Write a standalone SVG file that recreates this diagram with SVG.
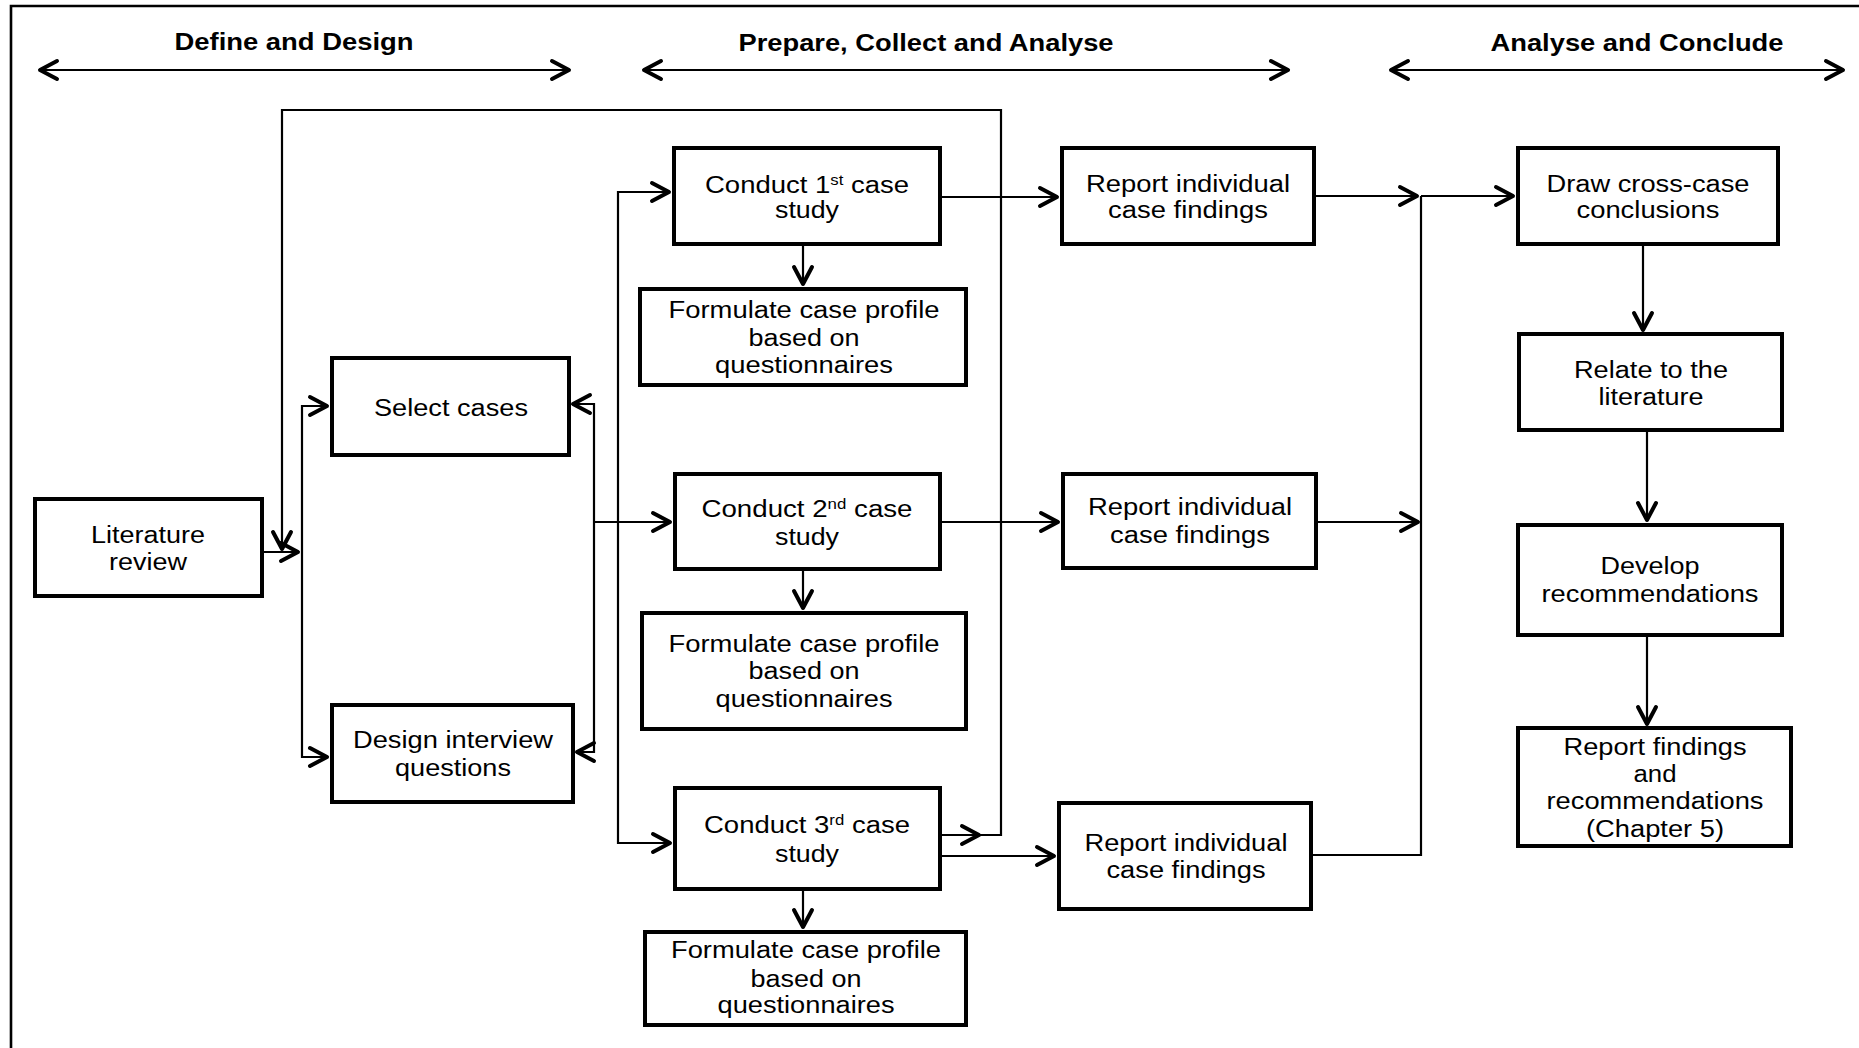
<svg xmlns="http://www.w3.org/2000/svg" width="1859" height="1048" viewBox="0 0 1859 1048">
<style>
.box{fill:#fff;stroke:#000;stroke-width:4}
.t{font-family:"Liberation Sans",Arial,sans-serif;font-size:23px;fill:#000;text-anchor:middle}
.h{font-family:"Liberation Sans",Arial,sans-serif;font-size:23px;font-weight:bold;fill:#000;text-anchor:middle}
.c{fill:none;stroke:#000;stroke-width:2.2}
.ar{marker-end:url(#ah)}
.dbl{marker-start:url(#ahs);marker-end:url(#ah)}
</style>
<defs>
<marker id="ah" markerUnits="userSpaceOnUse" markerWidth="24" markerHeight="24" refX="0" refY="0" orient="auto" overflow="visible">
<path d="M-17,-9 L0,0 L-17,9" fill="none" stroke="#000" stroke-width="4" stroke-linecap="round" stroke-linejoin="round"/>
</marker>
<marker id="ahs" markerUnits="userSpaceOnUse" markerWidth="24" markerHeight="24" refX="0" refY="0" orient="auto" overflow="visible">
<path d="M17,-9 L0,0 L17,9" fill="none" stroke="#000" stroke-width="4" stroke-linecap="round" stroke-linejoin="round"/>
</marker>
</defs>
<rect width="1859" height="1048" fill="#fff"/>
<path d="M11,1048 V6 H1859" fill="none" stroke="#000" stroke-width="2.6"/>

<g id="headings">
<text class="h" x="294" y="50" textLength="239" lengthAdjust="spacingAndGlyphs">Define and Design</text>
<text class="h" x="926" y="51" textLength="375" lengthAdjust="spacingAndGlyphs">Prepare, Collect and Analyse</text>
<text class="h" x="1637" y="51" textLength="293" lengthAdjust="spacingAndGlyphs">Analyse and Conclude</text>
</g>

<g id="connectors">
<path class="c dbl" d="M40,70 H569"/>
<path class="c dbl" d="M644,70 H1288"/>
<path class="c dbl" d="M1391,70 H1843"/>
<path class="c ar" d="M262,552 H298"/>
<path class="c ar" d="M302,552 V406 H327"/>
<path class="c ar" d="M302,552 V757 H327"/>
<path class="c ar" d="M940,835 H979"/>
<path class="c ar" d="M979,835 H1001 V110 H282 V549"/>
<path class="c ar" d="M594,522 V404 H573"/>
<path class="c ar" d="M594,522 V752 H577"/>
<path class="c ar" d="M594,522 H670"/>
<path class="c ar" d="M618,522 V192 H669"/>
<path class="c ar" d="M618,522 V843 H670"/>
<path class="c ar" d="M803,244 V284"/>
<path class="c ar" d="M803,569 V608"/>
<path class="c ar" d="M803,889 V927"/>
<path class="c ar" d="M940,197 H1057"/>
<path class="c ar" d="M940,522 H1058"/>
<path class="c ar" d="M940,856 H1054"/>
<path class="c ar" d="M1314,196 H1417"/>
<path class="c ar" d="M1316,522 H1418"/>
<path class="c" d="M1311,855 H1421 V196"/>
<path class="c ar" d="M1421,196 H1513"/>
<path class="c ar" d="M1643,244 V330"/>
<path class="c ar" d="M1647,430 V520"/>
<path class="c ar" d="M1647,635 V724"/>
</g>

<g id="literature-review">
<rect class="box" x="35" y="499" width="227" height="97"/>
<text class="t" x="148" y="543" textLength="114" lengthAdjust="spacingAndGlyphs">Literature</text>
<text class="t" x="148" y="570" textLength="78" lengthAdjust="spacingAndGlyphs">review</text>
</g>
<g id="select-cases">
<rect class="box" x="332" y="358" width="237" height="97"/>
<text class="t" x="451" y="416" textLength="154" lengthAdjust="spacingAndGlyphs">Select cases</text>
</g>
<g id="design-interview">
<rect class="box" x="332" y="705" width="241" height="97"/>
<text class="t" x="453" y="748" textLength="200" lengthAdjust="spacingAndGlyphs">Design interview</text>
<text class="t" x="453" y="776" textLength="116" lengthAdjust="spacingAndGlyphs">questions</text>
</g>

<g id="conduct-1">
<rect class="box" x="674" y="148" width="266" height="96"/>
<text class="t" x="807" y="193" textLength="204" lengthAdjust="spacingAndGlyphs">Conduct 1<tspan font-size="14" dy="-8">st</tspan><tspan dy="8"> case</tspan></text>
<text class="t" x="807" y="218" textLength="64" lengthAdjust="spacingAndGlyphs">study</text>
</g>
<g id="formulate-1">
<rect class="box" x="640" y="289" width="326" height="96"/>
<text class="t" x="804" y="318" textLength="271" lengthAdjust="spacingAndGlyphs">Formulate case profile</text>
<text class="t" x="804" y="346" textLength="111" lengthAdjust="spacingAndGlyphs">based on</text>
<text class="t" x="804" y="373" textLength="178" lengthAdjust="spacingAndGlyphs">questionnaires</text>
</g>
<g id="conduct-2">
<rect class="box" x="675" y="474" width="265" height="95"/>
<text class="t" x="807" y="517" textLength="211" lengthAdjust="spacingAndGlyphs">Conduct 2<tspan font-size="14" dy="-8">nd</tspan><tspan dy="8"> case</tspan></text>
<text class="t" x="807" y="545" textLength="64" lengthAdjust="spacingAndGlyphs">study</text>
</g>
<g id="formulate-2">
<rect class="box" x="642" y="613" width="324" height="116"/>
<text class="t" x="804" y="652" textLength="271" lengthAdjust="spacingAndGlyphs">Formulate case profile</text>
<text class="t" x="804" y="679" textLength="111" lengthAdjust="spacingAndGlyphs">based on</text>
<text class="t" x="804" y="707" textLength="177" lengthAdjust="spacingAndGlyphs">questionnaires</text>
</g>
<g id="conduct-3">
<rect class="box" x="675" y="788" width="265" height="101"/>
<text class="t" x="807" y="833" textLength="206" lengthAdjust="spacingAndGlyphs">Conduct 3<tspan font-size="14" dy="-8">rd</tspan><tspan dy="8"> case</tspan></text>
<text class="t" x="807" y="862" textLength="64" lengthAdjust="spacingAndGlyphs">study</text>
</g>
<g id="formulate-3">
<rect class="box" x="645" y="932" width="321" height="93"/>
<text class="t" x="806" y="958" textLength="270" lengthAdjust="spacingAndGlyphs">Formulate case profile</text>
<text class="t" x="806" y="987" textLength="111" lengthAdjust="spacingAndGlyphs">based on</text>
<text class="t" x="806" y="1013" textLength="177" lengthAdjust="spacingAndGlyphs">questionnaires</text>
</g>

<g id="report-1">
<rect class="box" x="1062" y="148" width="252" height="96"/>
<text class="t" x="1188" y="192" textLength="204" lengthAdjust="spacingAndGlyphs">Report individual</text>
<text class="t" x="1188" y="218" textLength="160" lengthAdjust="spacingAndGlyphs">case findings</text>
</g>
<g id="report-2">
<rect class="box" x="1063" y="474" width="253" height="94"/>
<text class="t" x="1190" y="515" textLength="204" lengthAdjust="spacingAndGlyphs">Report individual</text>
<text class="t" x="1190" y="543" textLength="160" lengthAdjust="spacingAndGlyphs">case findings</text>
</g>
<g id="report-3">
<rect class="box" x="1059" y="803" width="252" height="106"/>
<text class="t" x="1186" y="851" textLength="203" lengthAdjust="spacingAndGlyphs">Report individual</text>
<text class="t" x="1186" y="878" textLength="159" lengthAdjust="spacingAndGlyphs">case findings</text>
</g>

<g id="draw-conclusions">
<rect class="box" x="1518" y="148" width="260" height="96"/>
<text class="t" x="1648" y="192" textLength="203" lengthAdjust="spacingAndGlyphs">Draw cross-case</text>
<text class="t" x="1648" y="218" textLength="143" lengthAdjust="spacingAndGlyphs">conclusions</text>
</g>
<g id="relate-literature">
<rect class="box" x="1519" y="334" width="263" height="96"/>
<text class="t" x="1651" y="378" textLength="154" lengthAdjust="spacingAndGlyphs">Relate to the</text>
<text class="t" x="1651" y="405" textLength="105" lengthAdjust="spacingAndGlyphs">literature</text>
</g>
<g id="develop-recommendations">
<rect class="box" x="1518" y="525" width="264" height="110"/>
<text class="t" x="1650" y="574" textLength="99" lengthAdjust="spacingAndGlyphs">Develop</text>
<text class="t" x="1650" y="602" textLength="217" lengthAdjust="spacingAndGlyphs">recommendations</text>
</g>
<g id="report-findings">
<rect class="box" x="1518" y="728" width="273" height="118"/>
<text class="t" x="1655" y="755" textLength="183" lengthAdjust="spacingAndGlyphs">Report findings</text>
<text class="t" x="1655" y="782" textLength="43" lengthAdjust="spacingAndGlyphs">and</text>
<text class="t" x="1655" y="809" textLength="217" lengthAdjust="spacingAndGlyphs">recommendations</text>
<text class="t" x="1655" y="837" textLength="138" lengthAdjust="spacingAndGlyphs">(Chapter 5)</text>
</g>
</svg>
